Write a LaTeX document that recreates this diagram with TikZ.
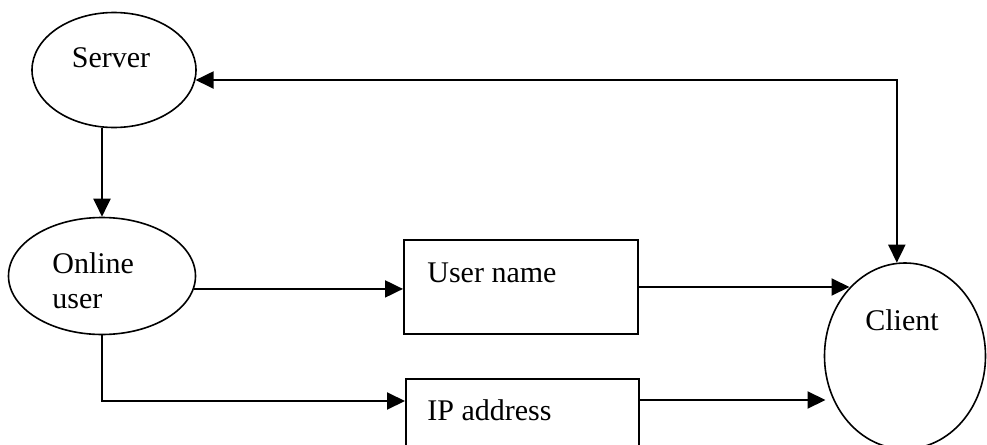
\documentclass[tikz,border=0pt]{standalone}
\usepackage{fontspec}
\setmainfont{Liberation Serif}
\usetikzlibrary{arrows.meta,shapes.geometric,calc}

\begin{document}
\begin{tikzpicture}[x=0.5pt,y=-0.5pt,
  >={Triangle[length=9pt,width=8.5pt]},
  bubble/.style={draw, ellipse, line width=0.8pt, inner sep=0pt},
  field/.style={draw, rectangle, line width=1pt, inner sep=0pt},
  txt/.style={font=\fontsize{15}{17.5}\selectfont, inner sep=0pt},
  flow/.style={line width=1pt}]
  \useasboundingbox (0,0) rectangle (987,445);

  % Server
  \node[bubble, minimum width=82pt, minimum height=57.5pt] (server) at (114,70) {};
  \node[txt, anchor=base] (servertxt) at (111,67) {Server};

  % Online user
  \node[bubble, minimum width=93.5pt, minimum height=58.5pt] (online) at (102,276) {};
  \node[txt, anchor=north west, align=left] (onlinetxt) at (52,252.5) {Online\\user};

  % User name
  \node[field, minimum width=117pt, minimum height=47pt] (uname) at (521,287) {};
  \node[txt, anchor=base west] (unametxt) at (427,282) {User name};

  % IP address
  \node[field, minimum width=116.5pt, minimum height=45pt] (ip) at (522.5,424) {};
  \node[txt, anchor=base west] (iptxt) at (427,420) {IP address};

  % Client
  \node[bubble, minimum width=80.5pt, minimum height=93pt] (client) at (905,356) {};
  \node[txt, anchor=base] (clienttxt) at (902,330) {Client};

  \coordinate (ipin) at ($(ip.north west)+(0,23)$);
  \coordinate (ipout) at ($(ip.north east)+(0,22)$);

  % Connections
  \draw[flow,->] (online.north |- server.south) -- (online.north);
  \draw[flow,<->] (server.-7) -| (client.95);
  \draw[flow,->] (online.-8) -- (online.-8 -| uname.west);
  \draw[flow,->] (online.south) |- (ipin);
  \draw[flow,->] (uname.east) -- (uname.east -| client.129);
  \draw[flow,->,shorten >=4pt] (ipout) -- (ipout -| client.212);
\end{tikzpicture}
\end{document}
